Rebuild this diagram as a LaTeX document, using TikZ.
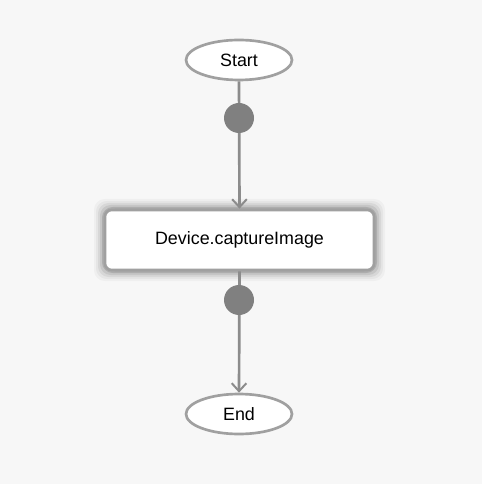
\documentclass[tikz,border=0pt]{standalone}
\usepackage{fontspec}
\setmainfont{Liberation Sans}
\usetikzlibrary{arrows.meta,shapes.geometric}
\definecolor{bg}{HTML}{F7F7F7}
\definecolor{edge}{HTML}{8C8C8C}
\definecolor{dotc}{HTML}{808080}
\definecolor{bord}{HTML}{A0A0A0}
\begin{document}
\begin{tikzpicture}[x=0.75pt,y=-0.75pt,
  term/.style={ellipse,draw=bord,line width=2pt,fill=white,minimum width=106*0.75pt,minimum height=40*0.75pt,inner sep=0pt,font=\fontsize{13.4}{15}\selectfont},
  taskbox/.style={rectangle,rounded corners=5pt,draw=bord,line width=2pt,fill=white,minimum width=269*0.75pt,minimum height=60*0.75pt,inner sep=0pt,font=\fontsize{13.4}{15}\selectfont},
  dot/.style={circle,fill=dotc,minimum size=30*0.75pt,inner sep=0pt},
  flow/.style={draw=edge,line width=2pt,-{Straight Barb[length=6pt,width=11pt,line width=1.5pt]}}]
\fill[bg] (0,0) rectangle (482,484);
\useasboundingbox (0,0) rectangle (482,484);
% shadow glow
\foreach \i/\o in {11/0.03,9/0.04,7/0.06,5/0.08,3/0.12,1/0.15}{
  \fill[black,opacity=\o,rounded corners=8pt] (105-\i,210-\i) rectangle (374+\i,270+\i);
}
\node[term] (start) at (239,60) {Start};
\node[taskbox] (task) at (239.5,240) {Device.captureImage};
\node[term] (end) at (239,414) {End};
\draw[flow] (start.south) -- (task.north);
\draw[flow] (task.south) -- (end.north);
\node[dot] (d1) at (239,118) {};
\node[dot] (d2) at (239,300) {};
\end{tikzpicture}
\end{document}
